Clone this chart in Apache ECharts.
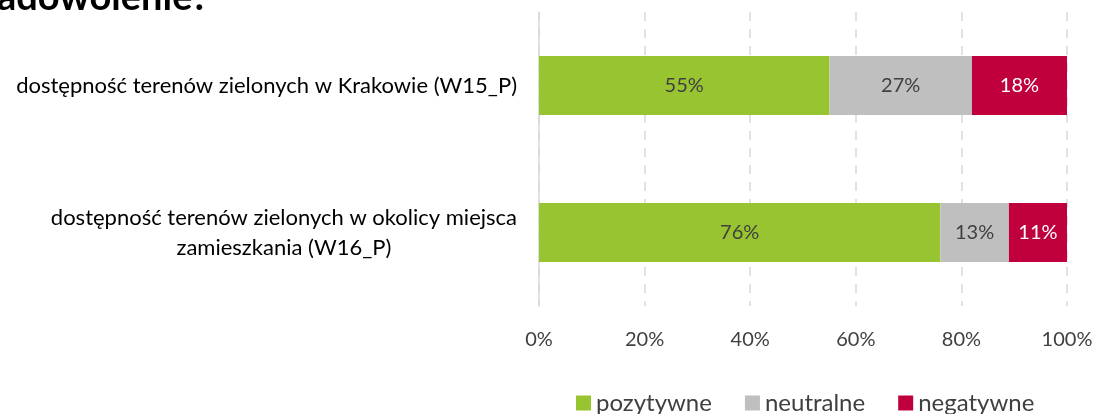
<!DOCTYPE html>
<html>
<head>
<meta charset="utf-8">
<script src="https://cdn.jsdelivr.net/npm/echarts@6/dist/echarts.min.js"></script>
<style>
  html, body { margin: 0; padding: 0; background: #fff; }
  #chart { width: 1096px; height: 414px; }
</style>
</head>
<body>
<div id="chart"></div>
<script>
// dane
var categories = [
  'dostępność terenów zielonych w Krakowie (W15_P)',
  'dostępność terenów zielonych w okolicy miejsca\nzamieszkania (W16_P)'
];
var seriesNames = ['pozytywne', 'neutralne', 'negatywne'];
var pozytywne = [55, 76];
var neutralne = [27, 13];
var negatywne = [18, 11];
var xTicks = [0, 20, 40, 60, 80, 100];

var FONT = 'Lato, "DejaVu Sans", sans-serif';
var colors = ['#99c431', '#bfbfbf', '#c0003c'];
var labelColors = ['#404040', '#404040', '#ffffff'];
var values = [pozytywne, neutralne, negatywne];

var chart = echarts.init(document.getElementById('chart'));

// jedna seria na kazda kategorie odpowiedzi, wszystkie w jednym stosie
var series = seriesNames.map(function (name, i) {
  return {
    name: name,
    type: 'bar',
    stack: 'total',
    barWidth: 59,
    data: values[i],
    itemStyle: { color: colors[i] },
    label: {
      show: true,
      position: 'inside',
      formatter: '{c}%',
      color: labelColors[i],
      fontFamily: FONT,
      fontSize: 20
    }
  };
});

var option = {
  animation: false,
  grid: { left: 539, right: 29, top: 12, bottom: 108, containLabel: false },
  legend: {
    data: seriesNames,
    left: 571,
    top: 386,
    itemWidth: 15,
    itemHeight: 15,
    itemGap: 33,
    icon: 'rect',
    textStyle: { fontFamily: FONT, fontSize: 24, color: '#404040' }
  },
  xAxis: {
    type: 'value',
    min: xTicks[0],
    max: xTicks[xTicks.length - 1],
    interval: 20,
    axisLine: { show: false },
    axisTick: { show: false },
    axisLabel: {
      formatter: '{value}%',
      fontFamily: FONT,
      fontSize: 20,
      color: '#404040',
      margin: 24
    },
    splitLine: {
      show: true,
      lineStyle: { color: '#d6d9de', type: [9, 8], width: 1.5 }
    }
  },
  yAxis: {
    type: 'category',
    data: categories,
    inverse: true,
    axisLine: { show: true, lineStyle: { color: '#d9d9d9', width: 1.5 } },
    axisTick: { show: false },
    axisLabel: {
      margin: 22,
      formatter: function (v) {
        return v.split('\n').map(function (s) { return '{c|' + s + '}'; }).join('\n');
      },
      rich: {
        c: { align: 'center', fontFamily: FONT, fontSize: 22, color: '#000000', lineHeight: 30 }
      }
    }
  },
  graphic: [{
    type: 'text',
    left: -3,
    top: -21,
    style: { text: 'adowolenie?', font: 'bold 38px ' + FONT, fill: '#000000' }
  }],
  series: series
};

chart.setOption(option);
</script>
</body>
</html>
